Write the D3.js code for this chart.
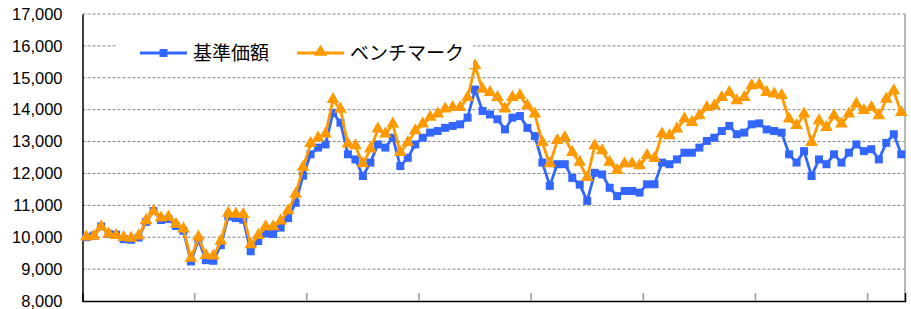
<!DOCTYPE html>
<html><head><meta charset="utf-8">
<script src="https://cdn.jsdelivr.net/npm/d3@7"></script>
<style>body{margin:0;background:#fff}svg{display:block}</style>
</head><body>
<script>
const seriesNames = ["基準価額", "ベンチマーク"];
const fundValues = [10000,10050,10340,10110,10080,9940,9920,9990,10480,10820,10540,10570,10350,10200,9240,9920,9280,9260,9750,10650,10600,10550,9560,9880,10120,10100,10300,10600,11080,11930,12600,12810,12910,13900,13590,12600,12440,11920,12340,12910,12810,13120,12230,12490,12910,13120,13280,13330,13430,13490,13540,13750,14630,13960,13850,13700,13380,13750,13800,13430,13170,12340,11610,12290,12290,11860,11650,11140,12020,11970,11550,11290,11450,11450,11400,11660,11660,12340,12290,12440,12650,12650,12810,13020,13120,13330,13490,13230,13280,13540,13570,13380,13330,13280,12600,12340,12700,11920,12440,12290,12600,12340,12650,12910,12700,12760,12440,12960,13230,12600];
const benchValues = [10000,10020,10320,10090,10040,9980,9960,10030,10510,10800,10590,10620,10400,10250,9330,10000,9420,9400,9870,10740,10710,10700,9750,10040,10320,10320,10500,10820,11340,12180,12930,13100,13230,14310,14000,12910,12860,12290,12760,13380,13230,13540,12650,12960,13330,13540,13750,13850,14010,14060,14060,14370,15370,14630,14530,14370,14010,14370,14430,14110,13850,12960,12290,13020,13120,12650,12340,11860,12860,12700,12340,12080,12290,12290,12230,12550,12460,13230,13170,13380,13700,13590,13800,14060,14110,14370,14530,14270,14370,14740,14760,14530,14480,14430,13700,13490,13850,12960,13640,13430,13800,13540,13850,14170,13960,14060,13800,14320,14580,13900];
const categories = fundValues.map((d, i) => String(i + 1));
const yTicks = [8000, 9000, 10000, 11000, 12000, 13000, 14000, 15000, 16000, 17000];
const xTickEvery = 15;

const W = 911, H = 309;
const L = 82.5, R = 905, T = 14, B = 301;
const svg = d3.select("body").append("svg").attr("width", W).attr("height", H);

const x = d3.scaleBand().domain(categories).range([L, R]).padding(0);
const y = d3.scaleLinear().domain([8000, 17000]).range([B, T]);
const cx = c => x(c) + x.bandwidth() / 2;

// gridlines
svg.append("g").selectAll("line").data(yTicks.filter(v => v > 8000)).join("line")
  .attr("x1", L).attr("x2", R).attr("y1", d => y(d)).attr("y2", d => y(d))
  .attr("stroke", "#808080").attr("stroke-width", 1).attr("stroke-dasharray", "3,2");

// right border
svg.append("line").attr("x1", R).attr("x2", R).attr("y1", T).attr("y2", B)
  .attr("stroke", "#a0a0a0").attr("stroke-width", 1.5);

// y axis
const yAxis = d3.axisLeft(y).tickValues(yTicks).tickFormat(d3.format(",")).tickSize(0).tickPadding(20);
const gy = svg.append("g").attr("transform", `translate(${L},0)`).call(yAxis);
gy.select(".domain").attr("stroke", "#000").attr("stroke-width", 1.5);
gy.selectAll("text").attr("font-family", "Liberation Sans, Arial, sans-serif").attr("font-size", 16.5).attr("fill", "#000");

// x axis
const tickCats = categories.filter((c, i) => i > 0 && i % xTickEvery === 0);
const xAxis = d3.axisBottom(x).tickValues(tickCats).tickSize(-8).tickFormat("");
const gx = svg.append("g").attr("transform", `translate(0,${B})`).call(xAxis);
gx.selectAll(".tick").attr("transform", d => `translate(${x(d)},0)`);
gx.selectAll(".tick line").attr("stroke", "#999").attr("stroke-width", 1.5);
gx.select(".domain").attr("stroke", "#000").attr("stroke-width", 1.5);

const colors = ["#3366ff", "#ff9900"];
const data = [fundValues, benchValues];
const line = d3.line().x((d, i) => cx(categories[i])).y(d => y(d));

data.forEach((vals, s) => {
  svg.append("path").datum(vals).attr("d", line).attr("fill", "none")
    .attr("stroke", colors[s]).attr("stroke-width", 2.8).attr("stroke-linejoin", "round");
  const sym = s === 0 ? d3.symbolSquare : d3.symbolTriangle;
  const size = s === 0 ? 64 : 70;
  svg.append("g").selectAll("path").data(vals).join("path")
    .attr("transform", (d, i) => `translate(${cx(categories[i])},${y(d) + (s === 1 ? -0.5 : 0)})`)
    .attr("d", d3.symbol().type(sym).size(size)).attr("fill", colors[s]);
});

// legend
const lg = svg.append("g");
lg.append("rect").attr("x", 117).attr("y", 34).attr("width", 356).attr("height", 34).attr("fill", "#fff");
const legendItems = [{x: 140, tx: 193}, {x: 297, tx: 350}];
legendItems.forEach((it, s) => {
  lg.append("line").attr("x1", it.x).attr("x2", it.x + 47).attr("y1", 53).attr("y2", 53)
    .attr("stroke", colors[s]).attr("stroke-width", 2.8);
  lg.append("path").attr("transform", `translate(${it.x + 23.5},${s === 1 ? 52 : 53})`)
    .attr("d", d3.symbol().type(s === 0 ? d3.symbolSquare : d3.symbolTriangle).size(s === 0 ? 64 : 75))
    .attr("fill", colors[s]);
  lg.append("text").attr("x", it.tx).attr("y", 53).attr("dy", "0.36em")
    .attr("font-family", "Noto Sans CJK JP, sans-serif").attr("font-size", 19).attr("fill", "#000")
    .text(seriesNames[s]);
});
</script>
</body></html>
